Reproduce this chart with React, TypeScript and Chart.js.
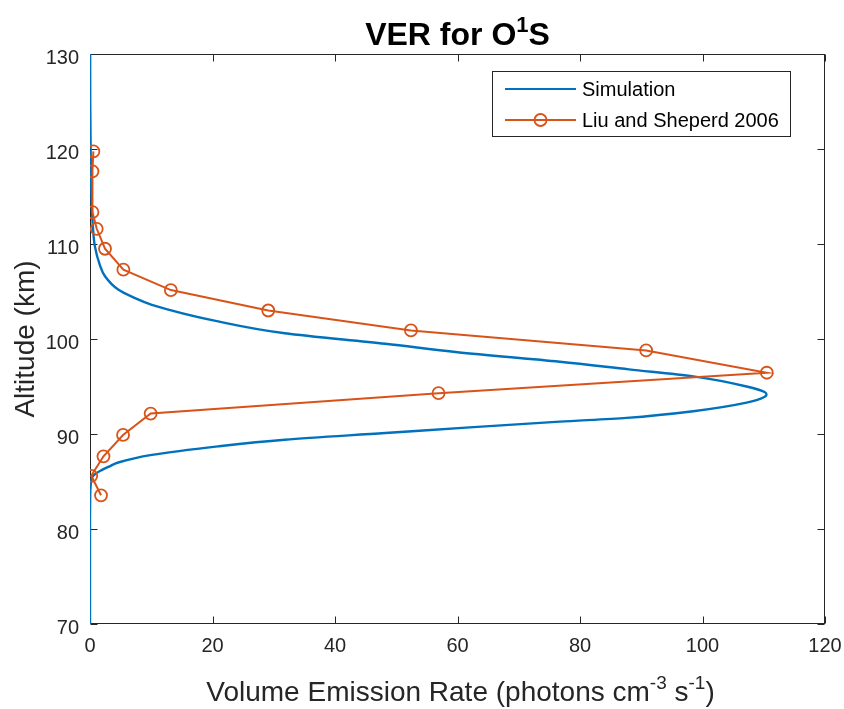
import React, { useEffect, useRef } from "react";
import { Chart, registerables } from "chart.js";

Chart.register(...registerables);

// ---- data ----
const simAltitude = [70, 80, 84, 84.5, 85.5, 86.2, 86.6, 87.0, 87.8, 88.7, 89.4, 90.1, 90.7, 91.3, 91.7, 92.4, 93.3, 93.9, 94.15, 94.4, 95.0, 96.06, 96.8, 97.6, 98.6, 99.5, 100.6, 101.85, 103.6, 104.4, 105.2, 106.6, 107.8, 109.75, 112, 115, 120, 125, 130];
const simVER = [0, 0, 0.05, 0.1, 0.4, 1.9, 3.2, 4.6, 10.1, 20.9, 31.8, 48.2, 62, 76.7, 87.6, 98.5, 107.2, 110.1, 110.45, 110.2, 107.2, 98.5, 88, 76.7, 60, 48.2, 31.8, 20.9, 10.1, 7.0, 4.6, 2.45, 1.6, 0.8, 0.45, 0.25, 0.1, 0.04, 0.02];

const liuAltitude = [119.75, 117.65, 113.35, 111.6, 109.5, 107.3, 105.15, 103.0, 100.9, 98.8, 96.45, 94.3, 92.15, 89.9, 87.65, 85.6, 83.55];
const liuVER = [0.55, 0.4, 0.4, 1.1, 2.45, 5.45, 13.2, 29.1, 52.4, 90.8, 110.5, 56.9, 9.9, 5.4, 2.2, 0.2, 1.8];

const xTicks = [0, 20, 40, 60, 80, 100, 120];
const yTicks = [70, 80, 90, 100, 110, 120, 130];

const simLabel = "Simulation";
const liuLabel = "Liu and Sheperd 2006";

const FONT = "'Liberation Sans', Arial, Helvetica, sans-serif";
const AXIS_COLOR = "#262626";
const BLUE = "#0072BD";
const ORANGE = "#D95319";

type Part = { t: string; sup?: boolean };

function drawRich(ctx: CanvasRenderingContext2D, parts: Part[], cx: number, baseline: number, size: number, weight: string, color: string) {
  const supSize = Math.round(size * 0.68);
  const widths = parts.map((p) => {
    ctx.font = `${weight} ${p.sup ? supSize : size}px ${FONT}`;
    return ctx.measureText(p.t).width;
  });
  const total = widths.reduce((a, b) => a + b, 0);
  let x = cx - total / 2;
  ctx.fillStyle = color;
  ctx.textAlign = "left";
  ctx.textBaseline = "alphabetic";
  parts.forEach((p, i) => {
    ctx.font = `${weight} ${p.sup ? supSize : size}px ${FONT}`;
    ctx.fillText(p.t, x, p.sup ? baseline - size * 0.42 : baseline);
    x += widths[i];
  });
}

const decorPlugin = {
  id: "decor",
  beforeDatasetsDraw(chart: any) {
    const { ctx, chartArea: a, scales } = chart;
    ctx.save();
    ctx.strokeStyle = AXIS_COLOR;
    ctx.lineWidth = 1;
    const L = Math.round(a.left) + 0.5;
    const R = Math.round(a.right) - 0.5;
    const T = Math.round(a.top) + 0.5;
    const B = Math.round(a.bottom) - 0.5;
    ctx.strokeRect(L, T, R - L, B - T);
    const tl = 7;
    ctx.beginPath();
    xTicks.forEach((v) => {
      const px = Math.round(scales.x.getPixelForValue(v)) + 0.5;
      ctx.moveTo(px, B);
      ctx.lineTo(px, B - tl);
      ctx.moveTo(px, T);
      ctx.lineTo(px, T + tl);
    });
    yTicks.forEach((v) => {
      const py = Math.round(scales.y.getPixelForValue(v)) + 0.5;
      ctx.moveTo(L, py);
      ctx.lineTo(L + tl, py);
      ctx.moveTo(R, py);
      ctx.lineTo(R - tl, py);
    });
    ctx.stroke();
    ctx.restore();
  },
  afterDraw(chart: any) {
    const { ctx, chartArea: a } = chart;
    ctx.save();
    const cx = (a.left + a.right) / 2;
    const cy = (a.top + a.bottom) / 2;
    // title
    drawRich(ctx, [{ t: "VER for O" }, { t: "1", sup: true }, { t: "S" }], cx, 45, 32, "bold", "#000");
    // x label
    drawRich(
      ctx,
      [{ t: "Volume Emission Rate (photons cm" }, { t: "-3", sup: true }, { t: " s" }, { t: "-1", sup: true }, { t: ")" }],
      cx + 3,
      701,
      28,
      "normal",
      AXIS_COLOR
    );
    // y label
    ctx.save();
    ctx.translate(34, cy);
    ctx.rotate(-Math.PI / 2);
    ctx.font = `normal 28px ${FONT}`;
    ctx.fillStyle = AXIS_COLOR;
    ctx.textAlign = "center";
    ctx.textBaseline = "alphabetic";
    ctx.fillText("Altitude (km)", 0, 0);
    ctx.restore();

    // legend
    const lx = 492.5, ly = 71.5, lw = 298, lh = 65;
    ctx.fillStyle = "#fff";
    ctx.fillRect(lx, ly, lw, lh);
    ctx.strokeStyle = AXIS_COLOR;
    ctx.lineWidth = 1;
    ctx.strokeRect(lx, ly, lw, lh);
    const rows = [
      { label: simLabel, color: BLUE, marker: false, y: 89 },
      { label: liuLabel, color: ORANGE, marker: true, y: 120 },
    ];
    rows.forEach((r) => {
      ctx.strokeStyle = r.color;
      ctx.lineWidth = 2;
      ctx.beginPath();
      ctx.moveTo(505, r.y);
      ctx.lineTo(576, r.y);
      ctx.stroke();
      if (r.marker) {
        ctx.lineWidth = 1.8;
        ctx.beginPath();
        ctx.arc(540.5, r.y, 6, 0, Math.PI * 2);
        ctx.stroke();
      }
      ctx.fillStyle = "#000";
      ctx.font = `normal 20px ${FONT}`;
      ctx.textAlign = "left";
      ctx.textBaseline = "middle";
      ctx.fillText(r.label, 582, r.y + 1);
    });
    ctx.restore();
  },
};

export default function App() {
  const ref = useRef<HTMLCanvasElement | null>(null);
  useEffect(() => {
    if (!ref.current) return;
    const chart = new Chart(ref.current, {
      type: "line",
      data: {
        datasets: [
          {
            label: liuLabel,
            data: liuVER.map((v, i) => ({ x: v, y: liuAltitude[i] })),
            borderColor: ORANGE,
            backgroundColor: "rgba(0,0,0,0)",
            borderWidth: 2,
            tension: 0,
            pointRadius: 6,
            pointBorderWidth: 1.8,
            pointBorderColor: ORANGE,
            pointBackgroundColor: "rgba(0,0,0,0)",
          },
          {
            label: simLabel,
            data: simVER.map((v, i) => ({ x: v, y: simAltitude[i] })),
            borderColor: BLUE,
            backgroundColor: BLUE,
            borderWidth: 2.4,
            cubicInterpolationMode: "monotone",
            pointRadius: 0,
          },
        ],
      },
      options: {
        indexAxis: "y",
        responsive: false,
        animation: false,
        devicePixelRatio: 1,
        events: [],
        layout: { padding: { left: 0, right: 19, top: 54, bottom: 0 } },
        plugins: {
          legend: { display: false },
          title: { display: false },
          tooltip: { enabled: false },
        },
        scales: {
          x: {
            type: "linear",
            min: 0,
            max: 120,
            afterBuildTicks: (s: any) => {
              s.ticks = xTicks.map((v) => ({ value: v }));
            },
            afterFit: (s: any) => {
              s.height = 85;
              s.paddingLeft = 0;
              s.paddingRight = 0;
            },
            ticks: {
              font: { family: FONT, size: 20 },
              color: AXIS_COLOR,
              padding: 2,
              maxRotation: 0,
              autoSkip: false,
            },
            grid: { display: false },
            border: { display: false },
          },
          y: {
            type: "linear",
            min: 70,
            max: 130,
            reverse: false,
            afterBuildTicks: (s: any) => {
              s.ticks = yTicks.map((v) => ({ value: v }));
            },
            afterFit: (s: any) => {
              s.width = 90;
              s.paddingTop = 0;
              s.paddingBottom = 0;
            },
            ticks: {
              font: { family: FONT, size: 20 },
              color: AXIS_COLOR,
              padding: 3,
              labelOffset: 4,
              autoSkip: false,
            },
            grid: { display: false },
            border: { display: false },
          },
        },
      },
      plugins: [decorPlugin],
    });
    return () => chart.destroy();
  }, []);
  return (
    <div style={{ position: "absolute", left: 0, top: 0, width: 844, height: 709, background: "#fff" }}>
      <canvas ref={ref} width={844} height={709} style={{ display: "block" }} />
    </div>
  );
}
